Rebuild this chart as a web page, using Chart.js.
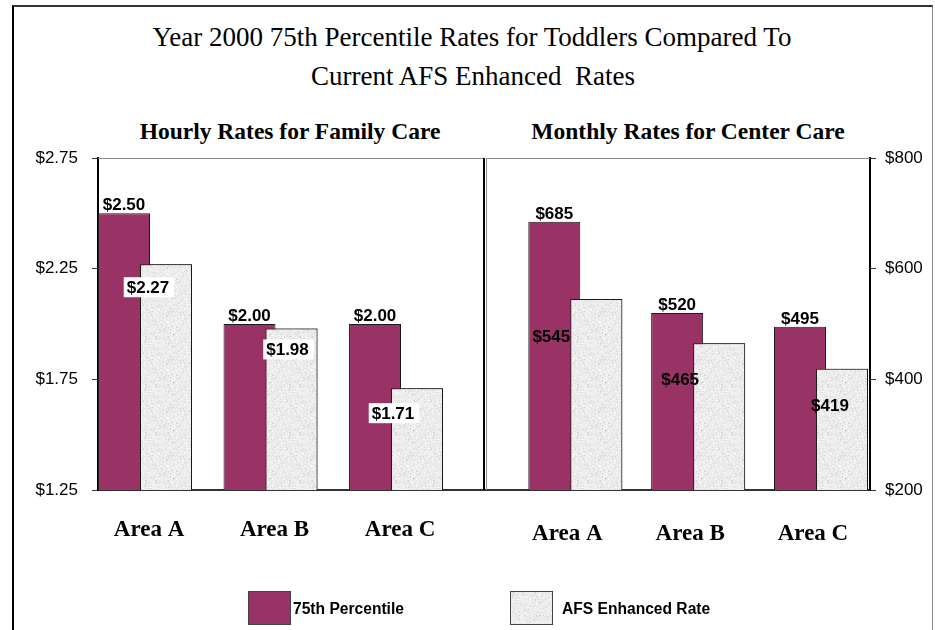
<!DOCTYPE html>
<html>
<head>
<meta charset="utf-8">
<script src="https://cdn.jsdelivr.net/npm/chart.js@4.4.1/dist/chart.umd.min.js"></script>
<style>
html,body{margin:0;padding:0;background:#fff;}
#wrap{position:relative;width:935px;height:630px;overflow:hidden;background:#fff;}
#frame{position:absolute;left:12px;top:5px;width:918px;height:700px;border-left:2px solid #000;border-top:2px solid #333;border-right:1px solid #888;box-sizing:content-box;}
canvas{position:absolute;left:0;top:0;}
.t{position:absolute;font-family:'Liberation Serif','Times New Roman',serif;color:#000;white-space:nowrap;transform:translate(-50%,-50%);line-height:1;}
.main{font-size:27px;}
.sub{font-size:23.5px;font-weight:bold;}
.lg{position:absolute;font-family:'Liberation Sans',Arial,sans-serif;font-weight:bold;font-size:15.6px;color:#000;white-space:nowrap;line-height:1;transform:translateY(-50%);}
.box{position:absolute;width:41px;height:32px;border:1px solid #444;}
</style>
</head>
<body>
<div id="wrap">
  <div id="frame"></div>
  <div class="t main" style="left:472px;top:37px;">Year 2000 75th Percentile Rates for Toddlers Compared To</div>
  <div class="t main" style="left:473px;top:76px;">Current AFS Enhanced&nbsp; Rates</div>
  <div class="t sub" style="left:290px;top:132px;">Hourly Rates for Family Care</div>
  <div class="t sub" style="left:688px;top:132px;">Monthly Rates for Center Care</div>
  <canvas id="c1" width="935" height="630"></canvas>
  <canvas id="c2" width="935" height="630"></canvas>
  <div class="box" id="lb1" style="left:248px;top:591px;background:#993366;"></div>
  <div class="lg" id="lt1" style="left:293px;top:609px;"></div>
  <div class="box" id="lb2" style="left:510px;top:591px;"></div>
  <div class="lg" id="lt2" style="left:562px;top:609px;"></div>
</div>
<script>
// ---- data ----
const categories = ['Area A', 'Area B', 'Area C'];
const seriesNames = ['75th Percentile', 'AFS Enhanced Rate'];
const hourly75 = [2.50, 2.00, 2.00];
const hourlyAFS = [2.27, 1.98, 1.71];
const monthly75 = [685, 520, 495];
const monthlyAFS = [545, 465, 419];
const hourlyTicks = [1.25, 1.75, 2.25, 2.75];
const monthlyTicks = [200, 400, 600, 800];

// ---- styles ----
const MAROON = '#993366';
Chart.defaults.animation = false;

function makeTexture() {
  const c = document.createElement('canvas');
  c.width = 48; c.height = 48;
  const g = c.getContext('2d');
  g.fillStyle = '#ececec';
  g.fillRect(0, 0, 48, 48);
  let s = 12345;
  const next = () => (s = (s * 16807) % 2147483647) / 2147483647;
  for (let k = 0; k < 800; k++) {
    const x = Math.floor(next() * 48), y = Math.floor(next() * 48);
    const v = next();
    g.fillStyle = v < 0.35 ? '#dcdcdc' : (v < 0.45 ? '#cfcfcf' : '#f8f8f8');
    g.fillRect(x, y, 1, 1);
  }
  return c;
}
const tex = makeTexture();
const grayPattern = document.getElementById('c1').getContext('2d').createPattern(tex, 'repeat');
document.getElementById('lb2').style.background = 'url(' + tex.toDataURL() + ')';
document.getElementById('lt1').textContent = seriesNames[0];
document.getElementById('lt2').textContent = seriesNames[1];

const barLabels = {
  id: 'barLabels',
  afterDatasetsDraw(chart, args, o) {
    const ctx = chart.ctx;
    const a = chart.chartArea;
    const grayMeta = chart.getDatasetMeta(1);
    ctx.save();
    ctx.beginPath();
    ctx.rect(a.left, a.top - 2, a.right - a.left, a.bottom - a.top + 2);
    ctx.clip();
    grayMeta.controller.draw();
    ctx.restore();
    ctx.save();
    ctx.font = 'bold 17px "Liberation Sans", Arial, sans-serif';
    ctx.textAlign = 'center';
    ctx.fillStyle = '#000';
    o.values.forEach((vals, di) => {
      const meta = chart.getDatasetMeta(di);
      meta.data.forEach((bar, i) => {
        const txt = o.format(vals[i]);
        if (di === 0) {
          ctx.textBaseline = 'alphabetic';
          ctx.fillText(txt, bar.x, bar.y - 3);
        } else {
          const off = o.offsets[i];
          const x = bar.x + off[0], y = bar.y + off[1];
          ctx.textBaseline = 'middle';
          if (o.box) {
            const w = ctx.measureText(txt).width;
            ctx.fillStyle = '#fff';
            ctx.fillRect(x - w / 2 - 3, y - 10, w + 8, 20);
            ctx.fillStyle = '#000';
          }
          ctx.fillText(txt, x, y + 1);
        }
      });
    });
    ctx.restore();
  }
};

const plotFrame = {
  id: 'plotFrame',
  afterDraw(chart, args, o) {
    const ctx = chart.ctx;
    const a = chart.chartArea;
    ctx.save();
    ctx.lineWidth = 1;
    ctx.strokeStyle = '#8a8a8a';
    ctx.beginPath();
    ctx.moveTo(a.left, a.top + 0.5);
    ctx.lineTo(a.right, a.top + 0.5);
    ctx.stroke();
    if (o.side === 'right') {
      ctx.strokeStyle = '#000';
      ctx.lineWidth = 2;
      ctx.beginPath();
      ctx.moveTo(a.right - 1, a.top);
      ctx.lineTo(a.right - 1, a.bottom);
      ctx.stroke();
    } else {
      ctx.strokeStyle = '#8a8a8a';
      ctx.lineWidth = 1;
      ctx.beginPath();
      ctx.moveTo(a.left + 0.5, a.top);
      ctx.lineTo(a.left + 0.5, a.bottom);
      ctx.stroke();
    }
    ctx.restore();
  }
};

function makeChart(id, cfg) {
  return new Chart(document.getElementById(id), {
    type: 'bar',
    data: {
      datasets: [
        { label: seriesNames[0], data: cfg.v1.map((v, i) => ({ x: i, y: v })),
          backgroundColor: MAROON, borderColor: '#1a1a1a', borderWidth: 1 },
        { label: seriesNames[1], data: cfg.v2.map((v, i) => ({ x: i, y: v })),
          backgroundColor: grayPattern, borderColor: '#1a1a1a', borderWidth: 1 }
      ]
    },
    options: {
      responsive: false,
      devicePixelRatio: 1,
      categoryPercentage: cfg.catPct,
      barPercentage: 1.238,
      layout: { padding: cfg.padding },
      plugins: {
        legend: { display: false },
        tooltip: { enabled: false },
        title: { display: false },
        barLabels: { values: [cfg.v1, cfg.v2], format: cfg.format, offsets: cfg.offsets, box: cfg.box },
        plotFrame: { side: cfg.frameSide }
      },
      scales: {
        x: {
          type: 'linear', min: cfg.xmin, max: cfg.xmax, offset: false,
          grid: { display: false, drawTicks: false },
          border: { display: true, color: '#333', width: 2 },
          afterBuildTicks: s => { s.ticks = categories.map((c, i) => ({ value: i })); },
          afterFit: s => { s.height = 140; },
          ticks: {
            autoSkip: false, maxRotation: 0, padding: cfg.xPad, labelOffset: cfg.labelOffset,
            color: '#000',
            font: { family: "'Liberation Serif', 'Times New Roman', serif", size: 23, weight: 'bold' },
            callback: v => categories[v]
          }
        },
        y: {
          position: cfg.yPos, min: cfg.ymin, max: cfg.ymax, beginAtZero: false,
          afterBuildTicks: s => { s.ticks = cfg.ticks.map(v => ({ value: v })); },
          afterFit: s => { s.width = cfg.yWidth; },
          grid: { drawOnChartArea: false, drawTicks: true, tickLength: 6, color: '#333', tickColor: '#333' },
          border: { display: true, color: '#000', width: 2 },
          ticks: {
            padding: cfg.yPad, color: '#000',
            font: { family: "'Liberation Sans', Arial, sans-serif", size: 17 },
            callback: cfg.tickFmt
          }
        }
      }
    },
    plugins: [barLabels, plotFrame]
  });
}

makeChart('c1', {
  v1: hourly75, v2: hourlyAFS,
  padding: { left: 0, top: 158, right: 450, bottom: 0 },
  xmin: -0.3745, xmax: 2.709, catPct: 0.669,
  ymin: 1.25, ymax: 2.75, ticks: hourlyTicks, yPos: 'left', yWidth: 98, yPad: 14,
  xPad: 26, labelOffset: 4,
  tickFmt: v => '$' + Number(v).toFixed(2),
  format: v => '$' + v.toFixed(2),
  offsets: [[-18, 23], [-4, 21], [-24, 25]], box: true,
  frameSide: 'right'
});

makeChart('c2', {
  v1: monthly75, v2: monthlyAFS,
  padding: { left: 486, top: 158, right: 0, bottom: 0 },
  xmin: -0.727, xmax: 2.399, catPct: 0.684,
  ymin: 200, ymax: 800, ticks: monthlyTicks, yPos: 'right', yWidth: 65, yPad: 9,
  xPad: 30, labelOffset: -8,
  tickFmt: v => '$' + v,
  format: v => '$' + v,
  offsets: [[-45, 37], [-39, 36], [-12, 36]], box: false,
  frameSide: 'left'
});
</script>
</body>
</html>
